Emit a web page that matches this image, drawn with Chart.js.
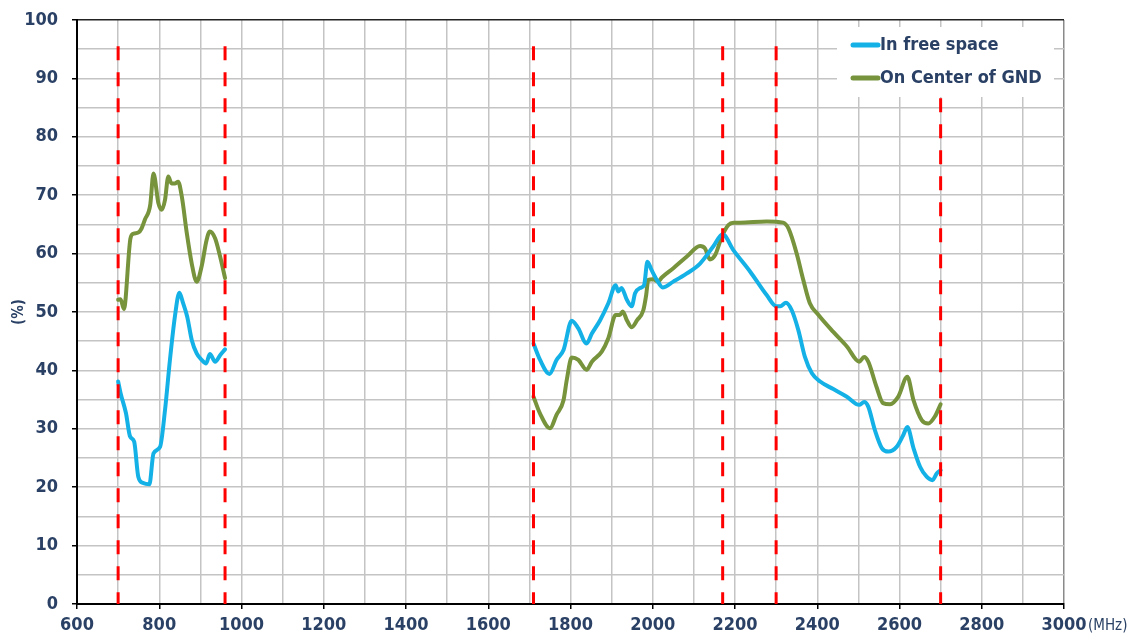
<!DOCTYPE html>
<html><head><meta charset="utf-8">
<script src="https://cdn.jsdelivr.net/npm/chart.js@4"></script>
<style>html,body{margin:0;padding:0;background:#fff}#wrap{width:1141px;height:644px;position:relative}canvas{display:block}</style>
</head><body><div id="wrap"><canvas id="c" width="1141" height="644"></canvas></div>
<script>
// ---- data ----
const seriesNames = ['In free space', 'On Center of GND'];
const xUnit = '(MHz)';
const yUnit = '(%)';
const xMin = 600, xMax = 3000, xLabelStep = 200, xGridStep = 100;
const yMin = 0, yMax = 100, yLabelStep = 10, yGridStep = 5;

const markerFreqs = [700, 960, 1710, 2170, 2300, 2700];
const markerTops = [95.5, 95.5, 95.5, 95.5, 95.5, 95.5];

const blueLowFreq = [700, 706, 719, 729, 739, 749, 761, 776, 786, 802, 814, 826, 838, 849, 858, 868, 879, 891, 903, 914, 923, 936, 948, 960];
const blueLowVal  = [38.1, 36.1, 32.7, 28.7, 27.8, 21.8, 20.7, 20.5, 25.8, 26.9, 33.2, 41.8, 49.2, 53.3, 51.5, 49.2, 45.2, 42.9, 41.8, 41.2, 42.8, 41.5, 42.6, 43.6];

const greenLowFreq = [700, 706, 714, 730, 737, 749, 757, 765, 778, 786, 798, 806, 814, 822, 830, 838, 846, 855, 867, 879, 891, 903, 915, 923, 936, 948, 960];
const greenLowVal  = [52.1, 52.2, 50.5, 62.6, 63.4, 63.6, 64.3, 65.8, 68.3, 73.7, 68.6, 67.5, 69.2, 73.2, 72.0, 72.0, 72.3, 69.7, 63.5, 58.3, 55.2, 57.8, 62.3, 63.8, 62.6, 59.5, 55.8];

const blueHighFreq = [1710, 1726, 1749, 1766, 1783, 1803, 1819, 1839, 1852, 1872, 1892, 1910, 1916, 1924, 1937, 1949, 1957, 1969, 1979, 1987, 1997, 2010, 2024, 2050, 2083, 2115, 2147, 2170, 2196, 2237, 2277, 2300, 2310, 2324, 2338, 2354, 2370, 2387, 2407, 2439, 2472, 2502, 2514, 2524, 2540, 2557, 2573, 2593, 2609, 2619, 2634, 2650, 2666, 2680, 2691, 2700];
const blueHighVal  = [44.6, 41.8, 39.4, 41.8, 43.5, 48.5, 47.2, 44.6, 46.3, 48.6, 51.5, 54.6, 53.5, 54.1, 52.1, 51.0, 53.2, 54.1, 54.6, 58.6, 57.2, 55.5, 54.2, 55.2, 56.6, 58.3, 61.2, 63.3, 60.6, 56.9, 52.9, 51.0, 51.0, 51.6, 50.3, 46.9, 42.3, 39.5, 38.1, 36.8, 35.5, 34.1, 34.6, 33.8, 29.8, 26.7, 26.1, 26.9, 28.9, 30.3, 26.7, 23.5, 21.8, 21.2, 22.4, 22.9];

const greenHighFreq = [1710, 1726, 1750, 1766, 1783, 1791, 1803, 1819, 1839, 1852, 1876, 1892, 1910, 1920, 1927, 1937, 1949, 1962, 1977, 1984, 1989, 2001, 2013, 2022, 2050, 2083, 2115, 2127, 2139, 2152, 2168, 2184, 2196, 2212, 2277, 2317, 2330, 2350, 2366, 2382, 2403, 2439, 2472, 2502, 2514, 2524, 2544, 2560, 2577, 2597, 2619, 2634, 2654, 2670, 2686, 2700];
const greenHighVal  = [35.5, 32.6, 30.1, 32.4, 34.9, 38.4, 42.2, 41.8, 40.1, 41.5, 43.2, 45.5, 49.5, 49.5, 50.1, 48.6, 47.4, 48.6, 50.3, 52.9, 55.5, 55.6, 55.2, 55.9, 57.5, 59.5, 61.3, 60.9, 59.0, 59.8, 62.9, 64.9, 65.3, 65.3, 65.5, 65.3, 64.3, 60.0, 55.5, 51.5, 49.5, 46.6, 44.1, 41.5, 42.3, 41.5, 37.2, 34.4, 34.2, 35.5, 38.9, 34.9, 31.5, 30.9, 32.1, 34.2];

// ---- build ----
const pts = (f, v) => f.map((x, i) => ({x, y: v[i]}));
const joinBands = (a, b) => [...a, {x: (a[a.length-1].x + b[0].x) / 2, y: null}, ...b];

const blueColor = '#14B1E7';
const greenColor = '#77933C';
const textColor = '#2A4165';
const fontFam = '"Liberation Sans Narrow", "Arial Narrow", "DejaVu Sans Condensed", sans-serif';

const datasets = [];
markerFreqs.forEach((f, i) => {
  datasets.push({
    label: 'marker' + i, isMarker: true,
    data: [{x: f, y: markerTops[i]}, {x: f, y: yMin}],
    borderColor: '#FF0000', borderWidth: 3, borderDash: [14, 12],
    pointRadius: 0, fill: false, order: 0, tension: 0
  });
});
datasets.push({
  label: seriesNames[0],
  data: joinBands(pts(blueLowFreq, blueLowVal), pts(blueHighFreq, blueHighVal)),
  borderColor: blueColor, backgroundColor: blueColor, borderWidth: 4,
  pointRadius: 0, spanGaps: false, cubicInterpolationMode: 'monotone', order: 1,
  borderCapStyle: 'round', borderJoinStyle: 'round'
});
datasets.push({
  label: seriesNames[1],
  data: joinBands(pts(greenLowFreq, greenLowVal), pts(greenHighFreq, greenHighVal)),
  borderColor: greenColor, backgroundColor: greenColor, borderWidth: 4,
  pointRadius: 0, spanGaps: false, cubicInterpolationMode: 'monotone', order: 2,
  borderCapStyle: 'round', borderJoinStyle: 'round'
});

const boxLegend = {
  id: 'boxLegend',
  afterDraw(chart) {
    const ctx = chart.ctx, ca = chart.chartArea;
    ctx.save();
    const bx = ca.right - 227, by = ca.top + 7, bw = 217, bh = 70;
    ctx.fillStyle = '#fff';
    ctx.fillRect(bx, by, bw, bh);
    const series = chart.data.datasets.filter(d => !d.isMarker);
    ctx.font = 'bold 18px ' + fontFam;
    ctx.textBaseline = 'middle';
    ctx.textAlign = 'left';
    series.forEach((d, i) => {
      const y = by + 18 + i * 33;
      ctx.strokeStyle = d.borderColor; ctx.lineWidth = 5; ctx.lineCap = 'round';
      ctx.beginPath(); ctx.moveTo(bx + 16, y); ctx.lineTo(bx + 41, y); ctx.stroke();
      ctx.fillStyle = textColor;
      ctx.fillText(d.label, bx + 43, y);
    });
    ctx.font = '15px ' + fontFam;
    ctx.fillStyle = textColor;
    ctx.textAlign = 'left';
    ctx.fillText(xUnit, ca.right + 24, ca.bottom + 22);
    ctx.restore();
  }
};

new Chart(document.getElementById('c'), {
  type: 'line',
  data: { datasets },
  plugins: [boxLegend],
  options: {
    responsive: false, animation: false, devicePixelRatio: 1,
    layout: { padding: { left: 0, top: 20, right: 77, bottom: 0 } },
    plugins: { legend: { display: false }, tooltip: { enabled: false } },
    scales: {
      x: {
        type: 'linear', min: xMin, max: xMax,
        afterFit: s => { s.height = 40; },
        ticks: {
          stepSize: xGridStep, autoSkip: false, maxRotation: 0, padding: 6,
          color: textColor, font: { family: fontFam, size: 18, weight: 'bold' },
          callback: v => (v % xLabelStep === 0 ? v : '')
        },
        grid: {
          color: c => (c.tick && c.tick.value === xMax ? '#8a8a8a' : '#C4C4C4'),
          lineWidth: 1.5, tickLength: 5,
          tickColor: c => (c.tick && c.tick.value % xLabelStep === 0 ? '#000' : 'rgba(0,0,0,0)')
        },
        border: { color: '#000', width: 2 }
      },
      y: {
        min: yMin, max: yMax,
        afterFit: s => { s.width = 77; s.paddingTop = 0; s.paddingBottom = 0; },
        ticks: {
          stepSize: yGridStep, autoSkip: false, padding: 14,
          color: textColor, font: { family: fontFam, size: 18, weight: 'bold' },
          callback: v => (v % yLabelStep === 0 ? v : '')
        },
        grid: {
          color: c => (c.tick && c.tick.value === yMax ? '#222' : '#C4C4C4'),
          lineWidth: 1.5,
          tickLength: 5,
          tickColor: c => (c.tick && c.tick.value % yLabelStep === 0 ? '#000' : 'rgba(0,0,0,0)')
        },
        border: { color: '#000', width: 2 },
        title: { display: true, text: yUnit, color: textColor, font: { family: fontFam, size: 15, weight: 'bold' }, padding: { top: 10, bottom: 0 } }
      }
    }
  }
});
</script>
</body></html>
